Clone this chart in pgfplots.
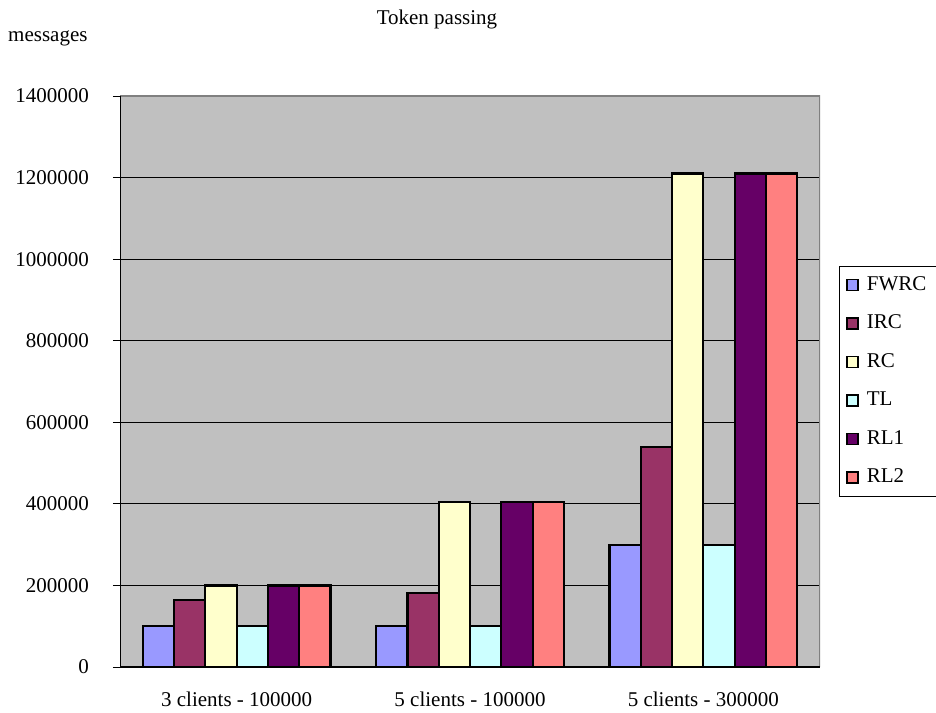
\documentclass[border=0pt]{standalone}
\usepackage{pgfplots}
\pgfplotsset{compat=1.18}
\usepackage{fontspec}
\setmainfont{Liberation Serif}

\definecolor{cFWRC}{HTML}{9999FF}
\definecolor{cIRC}{HTML}{993366}
\definecolor{cRC}{HTML}{FFFFCC}
\definecolor{cTL}{HTML}{CCFFFF}
\definecolor{cRLa}{HTML}{660066}
\definecolor{cRLb}{HTML}{FF8080}
\definecolor{plotgray}{HTML}{C0C0C0}
\definecolor{bordergray}{HTML}{808080}

\begin{document}
\begin{tikzpicture}
\fontsize{21bp}{25bp}\selectfont
\useasboundingbox (0,0) rectangle (936bp,713bp);

\node at (437bp,694bp) {Token passing};
\node[anchor=west, inner sep=0pt] at (8bp,675bp) {messages};

\begin{axis}[
  at={(120bp,46bp)}, anchor=south west,
  scale only axis, width=700bp, height=571bp,
  xmin=-0.5, xmax=2.5, ymin=0, ymax=1400000,
  axis background/.style={fill=plotgray},
  axis line style={draw=none},
  ybar=0pt, bar width=31.3bp,
  xtick={0,1,2},
  xticklabels={3 clients - 100000, 5 clients - 100000, 5 clients - 300000},
  minor xtick={-0.5,0.5,1.5,2.5},
  ytick={0,200000,...,1400000},
  xtick pos=bottom, ytick pos=left,
  tick align=outside,
  major tick length=7bp, minor tick length=8bp,
  xtick style={draw=none},
  minor tick style={draw=black, line width=0.8bp},
  ytick style={draw=black, line width=0.8bp},
  ymajorgrids, grid style={draw=black, line width=0.9bp},
  scaled y ticks=false,
  /pgf/number format/.cd, fixed, 1000 sep={}, assume math mode=true,
  /pgfplots/.cd,
  tick label style={font=\fontsize{21bp}{25bp}\selectfont},
  yticklabel style={xshift=-17bp},
  xticklabel style={yshift=-11bp},
  barstyle/.style={draw=black, line width=2.2bp, fill=#1},
  legend image code/.code={\draw[#1, draw=black, line width=1.5bp] (0bp,-5.5bp) rectangle (11bp,5.5bp);},
  legend style={
    at={(1.0271,0.7023)}, anchor=north west,
    draw=black, line width=0.8bp, fill=white,
    font=\fontsize{21bp}{25bp}\selectfont,
    inner xsep=7bp, inner ysep=8bp, row sep=17.5bp, column sep=6bp,
    text width=64bp,
  },
  legend cell align=left,
]
\addplot[barstyle=cFWRC] coordinates {(0,100000) (1,100000) (2,300000)};
\addplot[barstyle=cIRC]  coordinates {(0,164000) (1,181000) (2,540000)};
\addplot[barstyle=cRC]   coordinates {(0,200000) (1,404000) (2,1210000)};
\addplot[barstyle=cTL]   coordinates {(0,100000) (1,100000) (2,300000)};
\addplot[barstyle=cRLa]  coordinates {(0,200000) (1,404000) (2,1210000)};
\addplot[barstyle=cRLb]  coordinates {(0,200000) (1,404000) (2,1210000)};
\legend{FWRC, IRC, RC, TL, RL1, RL2}
\draw[bordergray, line width=1.2bp] (rel axis cs:0,1) -- (rel axis cs:1,1) -- (rel axis cs:1,0);
\draw[black, line width=1bp] (rel axis cs:0,1) -- (rel axis cs:0,0) -- (rel axis cs:1,0);
\end{axis}
\end{tikzpicture}
\end{document}
